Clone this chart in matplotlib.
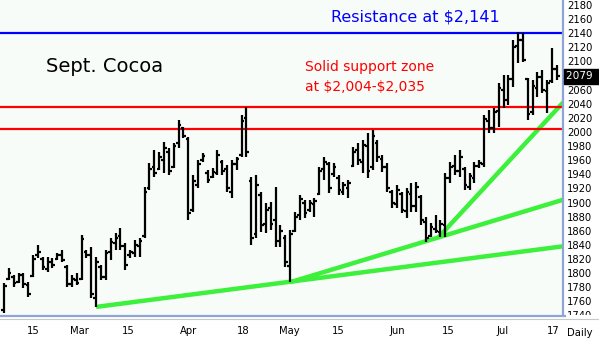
import numpy as np
import matplotlib
matplotlib.use("Agg")
import matplotlib.pyplot as plt
from matplotlib.transforms import blended_transform_factory
from matplotlib.lines import Line2D
from matplotlib.patches import Rectangle

# daily bars for Sept. cocoa (price in $/t), one entry per session
highs = [1786, 1807, 1797, 1800, 1800, 1787, 1826, 1840, 1823, 1823,
         1821, 1828, 1833, 1811, 1797, 1800, 1854, 1833, 1837, 1823,
         1811, 1833, 1850, 1857, 1864, 1843, 1833, 1847, 1850, 1922,
         1956, 1974, 1972, 1986, 1977, 1984, 2017, 2007, 1993, 1939,
         1960, 1970, 1946, 1949, 1974, 1960, 1953, 1960, 1965, 2024,
         2035, 1936, 1939, 1915, 1899, 1901, 1922, 1868, 1854, 1861,
         1887, 1911, 1904, 1904, 1906, 1950, 1965, 1958, 1956, 1939,
         1929, 1932, 1979, 1984, 1989, 1999, 2003, 1989, 1967, 1956,
         1918, 1925, 1915, 1921, 1928, 1929, 1911, 1880, 1871, 1882,
         1875, 1942, 1958, 1967, 1974, 1950, 1942, 1958, 1960, 2024,
         2031, 2034, 2070, 2081, 2081, 2131, 2142, 2141, 2077, 2074,
         2085, 2088, 2074, 2119, 2095]
lows = [1743, 1790, 1780, 1786, 1779, 1766, 1794, 1821, 1804, 1802,
        1807, 1819, 1816, 1780, 1780, 1783, 1790, 1821, 1765, 1752,
        1790, 1790, 1818, 1833, 1833, 1804, 1821, 1823, 1823, 1850,
        1918, 1936, 1946, 1942, 1939, 1949, 1977, 1991, 1875, 1887,
        1921, 1957, 1928, 1935, 1939, 1939, 1915, 1906, 1946, 1965,
        1965, 1840, 1850, 1858, 1857, 1861, 1837, 1837, 1809, 1787,
        1858, 1875, 1878, 1887, 1880, 1911, 1932, 1914, 1936, 1911,
        1911, 1906, 1950, 1953, 1942, 1935, 1946, 1958, 1943, 1915,
        1892, 1892, 1885, 1878, 1887, 1887, 1868, 1844, 1851, 1857,
        1851, 1851, 1928, 1939, 1936, 1918, 1918, 1928, 1949, 1950,
        1999, 1999, 2007, 2034, 2038, 2064, 2098, 2099, 2017, 2024,
        2050, 2055, 2027, 2070, 2074]
opens = [1748, 1792, 1795, 1788, 1797, 1783, 1796, 1825, 1820, 1806,
         1815, 1820, 1826, 1808, 1784, 1790, 1792, 1830, 1826, 1765,
         1808, 1795, 1830, 1842, 1852, 1838, 1825, 1828, 1838, 1852,
         1920, 1950, 1948, 1960, 1972, 1950, 1985, 2005, 1990, 1890,
         1925, 1960, 1942, 1936, 1942, 1958, 1948, 1915, 1955, 1968,
         2020, 1930, 1855, 1910, 1870, 1892, 1875, 1845, 1850, 1810,
         1860, 1882, 1900, 1890, 1898, 1912, 1948, 1955, 1940, 1935,
         1915, 1920, 1952, 1975, 1958, 1980, 1950, 1985, 1962, 1950,
         1915, 1898, 1912, 1888, 1912, 1895, 1908, 1872, 1852, 1862,
         1858, 1868, 1935, 1952, 1945, 1948, 1922, 1935, 1952, 1955,
         2015, 2005, 2030, 2060, 2045, 2075, 2122, 2130, 2075, 2028,
         2062, 2078, 2058, 2072, 2090]
closes = [1782, 1800, 1786, 1797, 1785, 1770, 1820, 1830, 1808, 1815,
          1812, 1826, 1818, 1785, 1792, 1786, 1848, 1825, 1770, 1815,
          1795, 1828, 1844, 1850, 1838, 1812, 1830, 1840, 1846, 1915,
          1948, 1942, 1965, 1978, 1945, 1980, 2010, 1995, 1885, 1930,
          1955, 1966, 1932, 1944, 1968, 1945, 1920, 1955, 1962, 2015,
          1972, 1850, 1925, 1868, 1890, 1870, 1845, 1860, 1815, 1855,
          1880, 1905, 1885, 1900, 1902, 1945, 1958, 1920, 1950, 1918,
          1925, 1928, 1972, 1960, 1982, 1945, 1995, 1965, 1950, 1920,
          1900, 1918, 1890, 1915, 1895, 1922, 1875, 1850, 1865, 1860,
          1870, 1935, 1950, 1945, 1965, 1925, 1938, 1952, 1956, 2018,
          2005, 2028, 2062, 2045, 2075, 2120, 2130, 2102, 2025, 2065,
          2078, 2060, 2070, 2090, 2079]

# date labels along the bottom (session index, text)
date_ticks = [6, 15.5, 25.6, 38.1, 49.3, 58.8, 68.9, 81.2, 91.5, 102.9, 113.2]
date_labels = ["15", "Mar", "15", "Apr", "18", "May", "15", "Jun", "15", "Jul", "17"]

# price scale
price_ticks = list(range(1740, 2181, 20))
last_price = 2079

# levels and trendlines (session index, price)
resistance = 2141
support = [2004, 2035]
trend_x = [[19, 115.3], [59, 115.3], [89.5, 115.3]]
trend_y = [[1752, 1838], [1787, 1904], [1850, 2042]]

#%%

W, H = 599, 339
fig = plt.figure(figsize=(W / 100, H / 100), dpi=100)
fig.patch.set_facecolor("white")

ax = fig.add_axes([0, 22 / H, 563 / W, 317 / H])
ax.set_facecolor("#F8FCF8")
ax.set_zorder(1)

x = np.arange(len(highs))

# trendlines first so the bars sit on top
for tx, ty in zip(trend_x, trend_y):
    ax.plot(tx, ty, color="#3CF03C", lw=3.2, solid_capstyle="butt", zorder=2)

ax.axhline(resistance, color="#0000FF", lw=1.6, zorder=2)
for s in support:
    ax.axhline(s, color="#FF0000", lw=1.6, zorder=2)

# OHLC bars
ax.vlines(x, lows, highs, color="black", lw=1.6, zorder=3)
ax.hlines(opens, x - 0.55, x, color="black", lw=1.6, zorder=3)
ax.hlines(closes, x, x + 0.55, color="black", lw=1.6, zorder=3)

ax.set_xlim(-0.82, 115.26)
ax.set_ylim(1737.7, 2187.2)

# right hand price axis
ax.yaxis.tick_right()
ax.set_yticks(price_ticks)
ax.set_yticklabels(["" if p == 2080 else str(p) for p in price_ticks])
ax.tick_params(axis="y", length=0, pad=3, labelsize=7.2)
ax.set_xticks([])

for side in ["left", "top", "bottom"]:
    ax.spines[side].set_visible(False)
ax.spines["right"].set_color("#8FA5D7")
ax.spines["right"].set_linewidth(1.6)

# last price box
trans = blended_transform_factory(ax.transAxes, ax.transData)
ax.text(1.006, last_price, "2079 ", transform=trans, color="white", fontsize=7.6,
        ha="left", va="center", zorder=6,
        bbox=dict(boxstyle="square,pad=0.25", fc="black", ec="black"))

# annotations
ax.text(0.081, 0.79, "Sept. Cocoa", transform=ax.transAxes, fontsize=14,
        ha="left", va="center", color="black")
ax.text(0.888, 0.945, "Resistance at \\$2,141", transform=ax.transAxes, fontsize=11.5,
        ha="right", va="center", color="#0000FF")
ax.text(0.542, 0.79, "Solid support zone", transform=ax.transAxes, fontsize=10,
        ha="left", va="center", color="#FF0000")
ax.text(0.542, 0.727, "at \\$2,004-\\$2,035", transform=ax.transAxes, fontsize=10,
        ha="left", va="center", color="#FF0000")

# bottom strip covers anything spilling below the chart (cuts the 1740 label)
fig.add_artist(Rectangle((0, 0), 1, 24 / H, transform=fig.transFigure,
                         fc="white", ec="none", zorder=2))
fig.add_artist(Line2D([0, 565 / W], [23.5 / H, 23.5 / H], transform=fig.transFigure,
                      color="#8FA5D7", lw=1.6, zorder=4))
fig.add_artist(Line2D([0, 1], [20 / H, 20 / H], transform=fig.transFigure,
                      color="#C8C8C8", lw=0.8, zorder=4))

ax2 = fig.add_axes([0, 0, 563 / W, 18 / H])
ax2.set_zorder(3)
ax2.patch.set_visible(False)
ax2.set_xlim(ax.get_xlim())
ax2.set_yticks([])
ax2.set_xticks(date_ticks)
ax2.set_xticklabels(date_labels)
ax2.tick_params(axis="x", length=0, pad=-9, labelsize=7.2)
for s in ax2.spines.values():
    s.set_visible(False)

fig.text(580 / W, 6 / H, "Daily", fontsize=7.2, ha="center", va="center", zorder=5)

fig.savefig("out.png", dpi=100)
